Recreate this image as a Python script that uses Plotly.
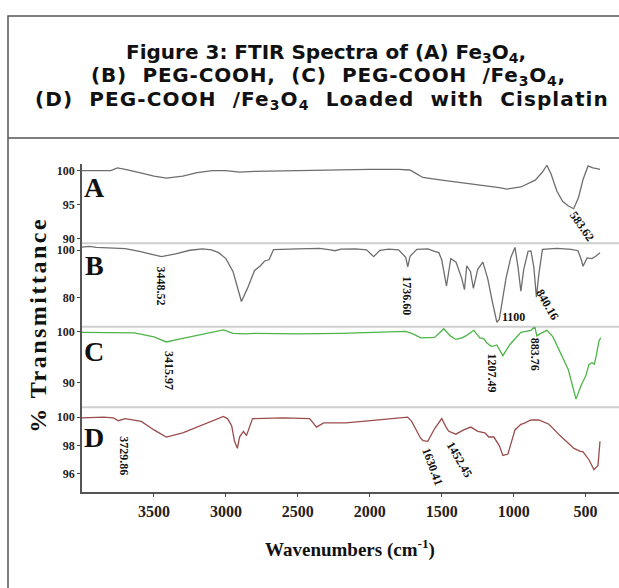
import plotly.graph_objects as go

W, H = 619, 588

# ---------------- data (wavenumber cm-1, % transmittance) ----------------
wn_A = [4000, 3900, 3800, 3754, 3700, 3600, 3500, 3413, 3300, 3200, 3093, 3000, 2905, 2800, 2600,
        2418, 2200, 2000, 1800, 1722, 1680, 1632, 1500, 1300, 1100, 1047, 950, 850, 800, 769, 740,
        700, 660, 620, 583, 550, 518, 483, 450, 421, 400]
t_A = [100.0, 100.0, 100.0, 100.4, 100.2, 99.7, 99.2, 98.9, 99.2, 99.7, 100.0, 100.0, 99.8, 99.9, 100.0,
       100.1, 100.2, 100.2, 100.2, 100.1, 99.6, 99.0, 98.6, 98.1, 97.5, 97.3, 97.6, 98.6, 99.8, 100.8, 99.5,
       97.0, 95.5, 94.8, 94.4, 96.0, 98.7, 100.7, 100.4, 100.3, 100.2]

wn_B = [4000, 3950, 3900, 3800, 3700, 3600, 3448, 3350, 3250, 3163, 3100, 3050, 3000, 2950, 2892,
        2850, 2801, 2760, 2731, 2700, 2669, 2500, 2350, 2272, 2244, 2200, 2100, 2022, 1973, 1930,
        1869, 1800, 1750, 1736, 1720, 1673, 1597, 1550, 1520, 1500, 1467, 1437, 1400, 1360, 1342,
        1326, 1300, 1280, 1250, 1214, 1180, 1150, 1117, 1100, 1080, 1054, 1020, 991, 970, 950, 930,
        900, 880, 860, 842, 825, 800, 700, 600, 553, 530, 518, 490, 456, 430, 400]
t_B = [101.3, 101.6, 101.2, 101.0, 100.7, 99.5, 97.3, 98.5, 100.0, 100.6, 100.2, 99.0, 96.5, 91.0, 78.5,
       84.0, 91.5, 93.5, 95.5, 96.0, 100.3, 100.6, 100.8, 100.2, 99.8, 100.5, 100.6, 100.2, 97.3, 100.0,
       100.5, 100.2, 97.0, 93.0, 97.5, 100.4, 100.6, 99.5, 99.0, 96.0, 85.0, 96.5, 95.0, 88.0, 83.5,
       93.5, 91.0, 84.0, 92.0, 95.0, 88.0, 79.0, 69.8, 71.0, 78.0, 88.0, 97.0, 101.2, 93.0, 82.8, 92.0,
       99.5, 99.7, 93.0, 80.3, 90.0, 100.4, 100.8, 100.4, 99.8, 96.0, 93.3, 96.8, 96.5, 97.5, 99.0]

wn_C = [4000, 3800, 3636, 3500, 3414, 3300, 3150, 3017, 2950, 2864, 2800, 2500, 2200, 1945, 1800,
        1750, 1700, 1646, 1549, 1486, 1440, 1402, 1360, 1326, 1277, 1235, 1207, 1186, 1152, 1117,
        1075, 1026, 950, 880, 853, 839, 818, 769, 727, 680, 620, 567, 530, 500, 477, 456, 440, 428,
        407, 395]
t_C = [99.9, 99.9, 99.8, 99.0, 98.0, 98.7, 99.6, 100.4, 99.7, 99.6, 99.7, 99.6, 99.7, 99.9, 100.0,
       100.1, 99.6, 98.8, 98.9, 100.6, 99.2, 98.5, 98.8, 99.3, 100.3, 98.8, 98.6, 97.8, 97.1, 97.4,
       95.3, 97.5, 99.9, 100.3, 101.0, 99.2, 99.6, 100.3, 99.0, 96.0, 92.5, 86.7, 89.5, 91.2, 93.5,
       93.9, 93.6, 95.0, 98.2, 98.8]

wn_D = [4000, 3850, 3782, 3747, 3700, 3664, 3588, 3500, 3414, 3300, 3163, 3017, 2989, 2960, 2940,
        2920, 2905, 2878, 2857, 2815, 2600, 2418, 2370, 2321, 2250, 2168, 2050, 1924, 1799, 1737,
        1709, 1688, 1646, 1630, 1597, 1549, 1500, 1470, 1451, 1402, 1347, 1298, 1249, 1200, 1173,
        1138, 1100, 1075, 1040, 991, 950, 929, 880, 825, 755, 678, 620, 581, 540, 518, 477, 442,
        414, 400]
t_D = [99.95, 100.0, 99.95, 99.75, 99.9, 99.85, 99.7, 99.1, 98.6, 98.9, 99.45, 100.05, 99.9, 99.4, 98.3,
       97.8, 98.6, 99.0, 98.7, 99.9, 99.95, 99.9, 99.3, 99.6, 99.6, 99.6, 99.7, 99.8, 99.9, 100.0,
       99.7, 99.3, 98.5, 98.35, 98.3, 99.2, 99.9, 99.3, 99.0, 98.8, 99.1, 99.3, 99.0, 98.9, 98.6,
       98.6, 98.0, 97.3, 97.4, 99.1, 99.5, 99.56, 99.8, 99.8, 99.5, 98.7, 98.2, 97.8, 97.6, 97.56,
       97.0, 96.3, 96.6, 98.3]

x_ticks = [3500, 3000, 2500, 2000, 1500, 1000, 500]
ticks_A = [100, 95, 90]
ticks_B = [100, 80]
ticks_C = [100, 90]
ticks_D = [100, 98, 96]

# peak labels: (panel, wavenumber, transmittance, text, angle)
peak_labels = [
    ("A", 525, 91.9, "583.62", 55),
    ("B", 3448, 85.0, "3448.52", 90),
    ("B", 1743, 80.8, "1736.60", 90),
    ("B", 999, 72.1, "1100", 0),
    ("B", 762, 77.1, "840.16", 60),
    ("C", 3392, 92.35, "3415.97", 90),
    ("C", 1152, 91.8, "1207.49", 90),
    ("C", 852, 95.5, "883.76", 90),
    ("D", 3713, 97.3, "3729.86", 90),
    ("D", 1562, 96.5, "1630.41", 70),
    ("D", 1374, 97.0, "1452.45", 60),
]

# ---------------- layout helpers ----------------
def px(x):
    return x / W

def py(y):
    return 1 - y / H

X0, X1 = 82, 619
Y_TOP, Y_AB, Y_BC, Y_CD, Y_BOT = 163, 243, 327, 408, 493

panels = {
    "A": dict(ax="y", key="yaxis", dom=(Y_AB, Y_TOP), rng=[89.3, 101.0], ticks=ticks_A,
              wn=wn_A, t=t_A, color="#6e6e6e", lab_y=187),
    "B": dict(ax="y2", key="yaxis2", dom=(Y_BC, Y_AB), rng=[67.9, 102.9], ticks=ticks_B,
              wn=wn_B, t=t_B, color="#6e6e6e", lab_y=265),
    "C": dict(ax="y3", key="yaxis3", dom=(Y_CD, Y_BC), rng=[85.1, 101.0], ticks=ticks_C,
              wn=wn_C, t=t_C, color="#4db548", lab_y=352),
    "D": dict(ax="y4", key="yaxis4", dom=(Y_BOT, Y_CD), rng=[94.75, 100.7], ticks=ticks_D,
              wn=wn_D, t=t_D, color="#9a4c4c", lab_y=438),
}

serif = "Liberation Serif"
fig = go.Figure()
layout = dict(
    width=W, height=H, margin=dict(l=0, r=0, t=0, b=0),
    paper_bgcolor="white", plot_bgcolor="white", showlegend=False,
    xaxis=dict(domain=[px(X0), px(X1)], range=[4000, 268], anchor="y4",
               tickvals=x_ticks, ticks="outside", ticklen=4, tickcolor="#444",
               showline=True, linecolor="#555", linewidth=1.5, showgrid=False, zeroline=False,
               tickfont=dict(family=serif, size=16, color="#222", weight="bold")),
)

annotations = []
shapes = []
for name, p in panels.items():
    fig.add_trace(go.Scatter(x=p["wn"], y=p["t"], mode="lines", xaxis="x", yaxis=p["ax"],
                             line=dict(color=p["color"], width=1.3)))
    layout[p["key"]] = dict(domain=[py(p["dom"][0]), py(p["dom"][1])], range=p["rng"],
                            anchor="x", tickvals=p["ticks"], ticks="outside", ticklen=3,
                            tickcolor="#444", showline=True, linecolor="#555", linewidth=1.5,
                            showgrid=False, zeroline=False,
                            tickfont=dict(family=serif, size=12, color="#222", weight="bold"))
    annotations.append(dict(xref="paper", yref="paper", x=px(94), y=py(p["lab_y"]),
                            text=name, showarrow=False, xanchor="center", yanchor="middle",
                            font=dict(family=serif, size=28, color="#111", weight="bold")))

for pan, wn, tv, txt, ang in peak_labels:
    annotations.append(dict(xref="x", yref=panels[pan]["ax"], x=wn, y=tv, text=txt,
                            showarrow=False, textangle=ang, xanchor="center", yanchor="middle",
                            font=dict(family=serif, size=12, color="#111", weight="bold")))

# separators between panels
for yy in (Y_AB, Y_BC, Y_CD):
    shapes.append(dict(type="line", xref="paper", yref="paper", x0=px(X0), x1=1.0,
                       y0=py(yy), y1=py(yy), line=dict(color="#cfcfcf", width=2), layer="below"))

# outer frame and title separator
shapes.append(dict(type="rect", xref="paper", yref="paper", x0=px(8), x1=1.01,
                   y0=-0.01, y1=py(14), line=dict(color="#555", width=1.5)))
shapes.append(dict(type="line", xref="paper", yref="paper", x0=px(8), x1=1.0,
                   y0=py(137), y1=py(137), line=dict(color="#555", width=1.5)))

# title lines (lines 2 and 3 are justified in the reference: wider spacing)
def spaced(txt, ls):
    return '<span style="letter-spacing:%spx">%s</span>' % (ls, txt)

g = " \u00a0"
title_lines = [
    (51, 326, "Figure 3: FTIR Spectra of (A) Fe<sub>3</sub>O<sub>4</sub>,"),
    (75, 328, spaced("(B)" + g + "PEG-COOH," + g + "(C)" + g + "PEG-COOH" + g
                     + "/Fe<sub>3</sub>O<sub>4</sub>,", 0.8)),
    (99, 322, spaced("(D)" + g + "PEG-COOH" + g + "/Fe<sub>3</sub>O<sub>4</sub>" + g + "Loaded"
                     + g + "with" + g + "Cisplatin", 1.1)),
]
for yy, xx, txt in title_lines:
    annotations.append(dict(xref="paper", yref="paper", x=px(xx), y=py(yy), text=txt,
                            showarrow=False, xanchor="center", yanchor="middle",
                            font=dict(family="DejaVu Sans", size=20, color="#111", weight="bold")))

# axis titles
annotations.append(dict(xref="paper", yref="paper", x=px(350), y=py(550),
                        text="Wavenumbers (cm<sup>-1</sup>)", showarrow=False,
                        xanchor="center", yanchor="middle",
                        font=dict(family=serif, size=19, color="#111", weight="bold")))
annotations.append(dict(xref="paper", yref="paper", x=px(38), y=py(325),
                        text=spaced("% Transmittance", 2.5), showarrow=False, textangle=-90,
                        xanchor="center", yanchor="middle",
                        font=dict(family=serif, size=24, color="#111", weight="bold")))

layout["annotations"] = annotations
layout["shapes"] = shapes
fig.update_layout(**layout)
fig.write_html("out.html")
